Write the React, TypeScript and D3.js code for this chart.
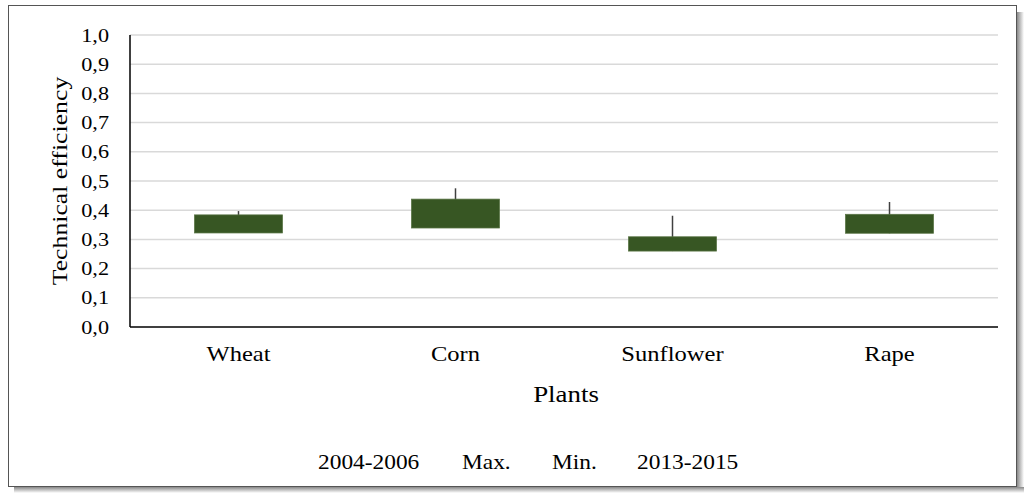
import React from "react";
import * as d3 from "d3";

const categories = ["Wheat", "Corn", "Sunflower", "Rape"];
const period1 = [0.322, 0.339, 0.26, 0.321]; // 2004-2006
const period2 = [0.384, 0.438, 0.309, 0.386]; // 2013-2015
const maxVals = [0.397, 0.475, 0.381, 0.428];
const minVals = [0.322, 0.339, 0.26, 0.321];
const yTicks = [0, 0.1, 0.2, 0.3, 0.4, 0.5, 0.6, 0.7, 0.8, 0.9, 1.0];
const legendItems = ["2004-2006", "Max.", "Min.", "2013-2015"];
const legendX = [318, 462, 552, 637];

const SX = 1.17;

function Txt(props: { x: number; y: number; size: number; anchor?: string; rotate?: number; dy?: string; children: React.ReactNode }) {
  const { x, y, size, anchor = "start", rotate = 0, dy } = props;
  return (
    <text
      transform={`translate(${x},${y}) rotate(${rotate}) scale(${SX},1)`}
      textAnchor={anchor}
      fontSize={size}
      dy={dy}
      fill="#000"
    >
      {props.children}
    </text>
  );
}

export default function App() {
  const W = 1024, H = 493;
  const left = 130, right = 998, top = 35, bottom = 327;
  const x = d3.scaleBand().domain(categories).range([left, right]).paddingInner(0.594).paddingOuter(0.297);
  const y = d3.scaleLinear().domain([0, 1]).range([bottom, top]);
  const font = "'Liberation Serif', 'Times New Roman', serif";
  const fmt = (v: number) => v.toFixed(1).replace(".", ",");
  return (
    <svg width={W} height={H} style={{ position: "absolute", left: 0, top: 0, background: "#fff" }} fontFamily={font}>
      <defs>
        <linearGradient id="shR" x1="0" x2="1" y1="0" y2="0">
          <stop offset="0" stopColor="#888" />
          <stop offset="1" stopColor="#fff" />
        </linearGradient>
        <linearGradient id="shB" x1="0" x2="0" y1="0" y2="1">
          <stop offset="0" stopColor="#888" />
          <stop offset="1" stopColor="#fff" />
        </linearGradient>
      </defs>
      <rect x={1017} y={12} width={7} height={481} fill="url(#shR)" />
      <rect x={14} y={487} width={1010} height={6} fill="url(#shB)" />
      <rect x={8.5} y={5.5} width={1008} height={481} fill="#fff" stroke="#555" strokeWidth={1} />
      {yTicks.map((t) => (
        <g key={t}>
          {t > 0 && <line x1={left} x2={right} y1={y(t)} y2={y(t)} stroke="#d9d9d9" strokeWidth={1.5} />}
          <Txt x={109} y={y(t)} dy="0.35em" anchor="end" size={19}>{fmt(t)}</Txt>
        </g>
      ))}
      <line x1={left} x2={left} y1={top} y2={bottom} stroke="#000" strokeWidth={1.5} />
      <line x1={left} x2={right} y1={bottom} y2={bottom} stroke="#000" strokeWidth={1.5} />
      {categories.map((c, i) => {
        const cx = (x(c) as number) + x.bandwidth() / 2;
        const hi = Math.max(period1[i], period2[i]);
        const lo = Math.min(period1[i], period2[i]);
        return (
          <g key={c}>
            <line x1={cx} x2={cx} y1={y(maxVals[i])} y2={y(minVals[i])} stroke="#404040" strokeWidth={1.5} />
            <rect x={x(c)} y={y(hi)} width={x.bandwidth()} height={y(lo) - y(hi)} fill="#375623" stroke="#5a7546" strokeWidth={0.75} />
            <Txt x={cx} y={361} anchor="middle" size={21}>{c}</Txt>
          </g>
        );
      })}
      <Txt x={(left + right) / 2 + 2} y={402} anchor="middle" size={23}>Plants</Txt>
      <Txt x={67} y={(top + bottom) / 2} anchor="middle" size={22} rotate={-90}>Technical efficiency</Txt>
      {legendItems.map((l, i) => (
        <Txt key={l} x={legendX[i]} y={469} size={20}>{l}</Txt>
      ))}
    </svg>
  );
}
